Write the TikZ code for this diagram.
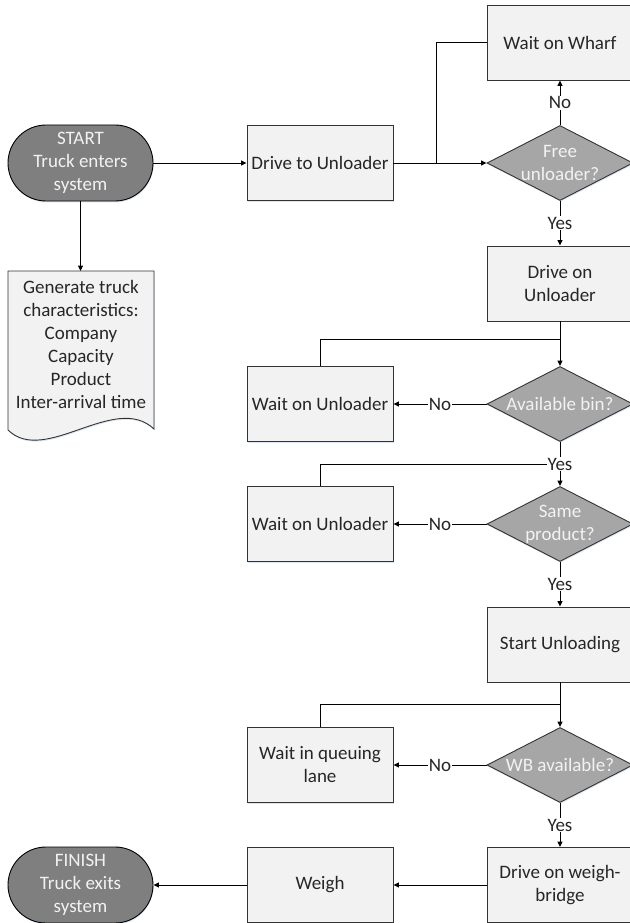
\documentclass[tikz,border=0pt]{standalone}
\usepackage{fontspec}
\setmainfont{Carlito}
\usetikzlibrary{shapes.geometric,shapes.misc,arrows.meta,shadows}
\definecolor{boxfill}{HTML}{F2F2F2}
\definecolor{termfill}{HTML}{7F7F7F}
\definecolor{diafill}{HTML}{A6A6A6}
\definecolor{edgecol}{HTML}{333333}
\definecolor{shadecol}{HTML}{DCE6F2}
\definecolor{txtcol}{HTML}{262626}
\begin{document}
\begin{tikzpicture}[x=1pt,y=-1pt,
  every node/.style={font=\fontsize{19}{23}\selectfont},
  sh/.style={general shadow={fill=shadecol, shadow xshift=0.6pt, shadow yshift=-1.4pt}},
  procbox/.style={rectangle, draw=edgecol, line width=0.9pt, fill=boxfill, minimum width=146pt, minimum height=75pt, inner sep=0pt, align=center, text=txtcol, sh},
  term/.style={rounded rectangle, draw=black, line width=0.9pt, fill=termfill, minimum width=145pt, minimum height=76pt, inner sep=0pt, align=center, text=white!95!black, sh},
  dia/.style={diamond, draw=edgecol, line width=0.9pt, fill=diafill, minimum width=146pt, minimum height=75pt, inner sep=0pt, sh},
  diatext/.style={text=white!95!black, align=center, inner sep=0pt},
  flow/.style={draw=black, line width=1pt},
  arr/.style={flow, -{Triangle[length=5.5pt,width=5pt]}},
  lab/.style={fill=white, inner sep=0.6pt, text=txtcol}
]
\useasboundingbox (0,0) rectangle (629,923);

% document shape
\draw[edgecol, line width=0.9pt, fill=boxfill, sh] (8,271) -- (154,271) -- (154,429)
  .. controls (115,392) and (45,466) .. (8,430) -- cycle;
\coordinate (gentop) at (80.5,271);
\node[align=center, text=txtcol, inner sep=0pt] (gen) at (81,344) {Generate truck\\characteristics:\\Company\\Capacity\\Product\\Inter-arrival time};

% nodes
\node[term] (start) at (80.5,163) {START\\Truck enters\\system};
\node[procbox] (drive) at (320,163) {Drive to Unloader};
\node[dia, label={[diatext]center:Free\\unloader?}] (free) at (560,163) {};
\node[procbox] (wharf) at (560,42.5) {Wait on Wharf};
\node[procbox] (driveon) at (560,283.5) {Drive on\\Unloader};
\node[dia, label={[diatext]center:Available bin?}] (bin) at (560,404) {};
\node[procbox] (waitA) at (320,404) {Wait on Unloader};
\node[dia, label={[diatext]center:Same\\product?}] (same) at (560,524) {};
\node[procbox] (waitB) at (320,524) {Wait on Unloader};
\node[procbox] (startun) at (560,644.5) {Start Unloading};
\node[dia, label={[diatext]center:WB available?}] (wb) at (560,765) {};
\node[procbox] (queue) at (320,765) {Wait in queuing\\lane};
\node[procbox] (dweigh) at (560,885) {Drive on weigh-\\bridge};
\node[procbox] (weigh) at (320,885) {Weigh};
\node[term] (finish) at (80.5,885) {FINISH\\Truck exits\\system};

% junctions
\coordinate (j1) at (436,163);
\coordinate (j2) at (560,339);
\coordinate (j3) at (560,464);
\coordinate (j5) at (560,704);

% connectors
\draw[arr] (start.east) -- (drive.west);
\draw[arr] (drive.east) -- (free.west);
\draw[flow] (wharf.west) -| (j1);
\draw[arr] (free.north) -- node[lab] (no1) {No} (wharf.south);
\draw[arr] (free.south) -- node[lab] (yes1) {Yes} (driveon.north);
\draw[arr] (start.south) -- (gentop);

\draw[flow] (waitA.north) |- (j2);
\draw[arr] (driveon.south) -- (bin.north);
\draw[arr] (bin.west) -- node[lab] (no2) {No} (waitA.east);

\draw[flow] (waitB.north) |- (j3);
\draw[arr] (bin.south) -- node[lab] (yes2) {Yes} (same.north);
\draw[arr] (same.west) -- node[lab] (no3) {No} (waitB.east);
\draw[arr] (same.south) -- node[lab] (yes3) {Yes} (startun.north);

\draw[flow] (queue.north) |- (j5);
\draw[arr] (startun.south) -- (wb.north);
\draw[arr] (wb.west) -- node[lab] (no4) {No} (queue.east);
\draw[arr] (wb.south) -- node[lab] (yes4) {Yes} (dweigh.north);

\draw[arr] (dweigh.west) -- (weigh.east);
\draw[arr] (weigh.west) -- (finish.east);
\end{tikzpicture}
\end{document}
